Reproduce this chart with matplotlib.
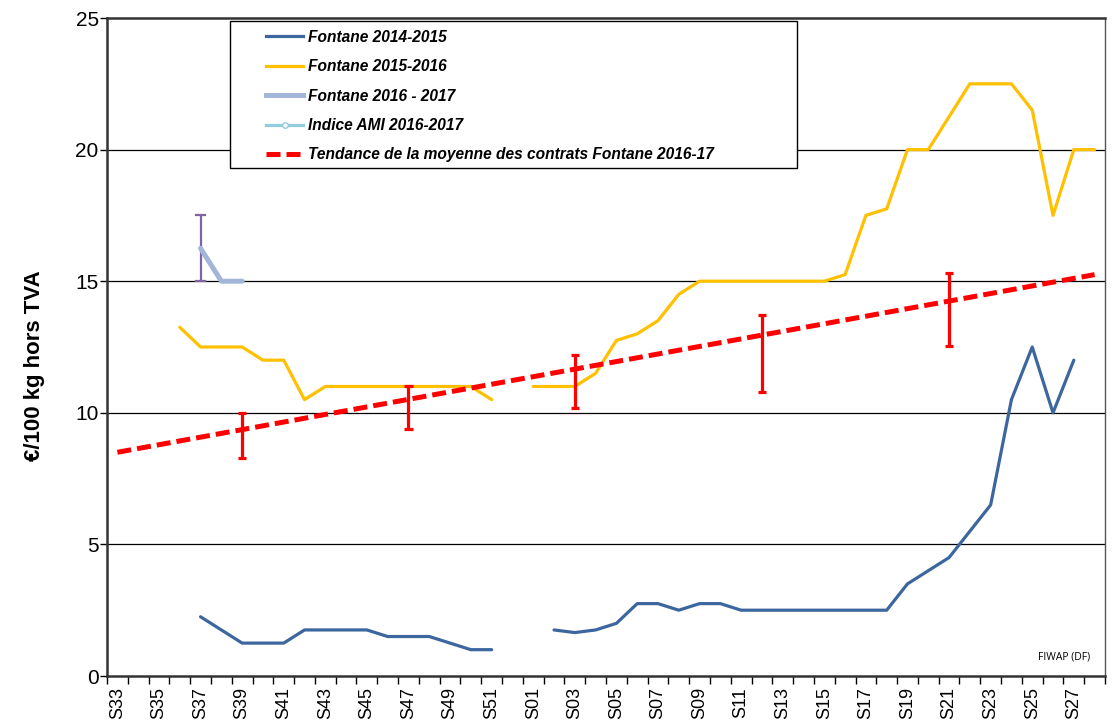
import numpy as np
import matplotlib
matplotlib.use("Agg")
import matplotlib.pyplot as plt
from matplotlib.lines import Line2D
from matplotlib.patches import Rectangle

plt.rcParams['font.family'] = ['Liberation Sans', 'DejaVu Sans']

nan = np.nan

weeks = ["S33", "S34", "S35", "S36", "S37", "S38", "S39", "S40", "S41", "S42",
         "S43", "S44", "S45", "S46", "S47", "S48", "S49", "S50", "S51", "S52",
         "S01", "S02", "S03", "S04", "S05", "S06", "S07", "S08", "S09", "S10",
         "S11", "S12", "S13", "S14", "S15", "S16", "S17", "S18", "S19", "S20",
         "S21", "S22", "S23", "S24", "S25", "S26", "S27", "S28"]

fontane_2014_2015 = [nan, nan, nan, nan, 2.25, 1.75, 1.25, 1.25, 1.25, 1.75,
                     1.75, 1.75, 1.75, 1.5, 1.5, 1.5, 1.25, 1.0, 1.0, nan,
                     nan, 1.75, 1.65, 1.75, 2.0, 2.75, 2.75, 2.5, 2.75, 2.75,
                     2.5, 2.5, 2.5, 2.5, 2.5, 2.5, 2.5, 2.5, 3.5, 4.0,
                     4.5, 5.5, 6.5, 10.5, 12.5, 10.0, 12.0, nan]

fontane_2015_2016 = [nan, nan, nan, 13.25, 12.5, 12.5, 12.5, 12.0, 12.0, 10.5,
                     11.0, 11.0, 11.0, 11.0, 11.0, 11.0, 11.0, 11.0, 10.5, nan,
                     11.0, 11.0, 11.0, 11.5, 12.75, 13.0, 13.5, 14.5, 15.0, 15.0,
                     15.0, 15.0, 15.0, 15.0, 15.0, 15.25, 17.5, 17.75, 20.0, 20.0,
                     21.25, 22.5, 22.5, 22.5, 21.5, 17.5, 20.0, 20.0]

fontane_2016_2017 = [nan, nan, nan, nan, 16.25, 15.0, 15.0] + [nan] * 41

indice_ami = [nan] * 48

# range bar on Fontane 2016-2017
range_week = ["S37"]
range_low = [15.0]
range_high = [17.5]

# contract ranges (red bars)
contract_weeks = ["S39", "S47", "S03", "S12", "S21"]
contract_low = [8.3, 9.4, 10.2, 10.8, 12.55]
contract_high = [10.0, 11.0, 12.2, 13.7, 15.3]

# trend line endpoints (first week, last week)
trend_values = [8.5, 15.25]

yticks = [0, 5, 10, 15, 20, 25]

BLUE = "#3C679E"
YELLOW = "#FFC000"
GREYBLUE = "#A3B5D9"
LIGHTBLUE = "#92CDDC"
RED = "#FF0000"
PURPLE = "#8064A2"

fig = plt.figure(figsize=(11.12, 7.2), dpi=100)
ax = fig.add_axes([107 / 1112, 44 / 720, (1105 - 107) / 1112, (676 - 18) / 720])

x = np.arange(len(weeks))

ax.set_ylim(0, 25)
ax.set_xlim(-0.5, len(weeks) - 0.5)

for v in [5, 10, 15, 20]:
    ax.axhline(v, color="black", lw=0.9, zorder=1)

ax.plot(x, fontane_2014_2015, color=BLUE, lw=2.3, zorder=3, solid_capstyle="round")
ax.plot(x, fontane_2015_2016, color=YELLOW, lw=2.3, zorder=3, solid_capstyle="round")
ax.plot(x, fontane_2016_2017, color=GREYBLUE, lw=3.6, zorder=3, solid_capstyle="round")
ax.plot(x, indice_ami, color=LIGHTBLUE, lw=2.3, marker="o", mfc="white", ms=4, zorder=3)

# purple range bar
rx = [weeks.index(w) for w in range_week]
ax.vlines(rx, range_low, range_high, color=PURPLE, lw=1.6, zorder=2)
for xx, lo, hi in zip(rx, range_low, range_high):
    ax.plot([xx - 0.2, xx + 0.2], [lo, lo], color=PURPLE, lw=1.6, zorder=2)
    ax.plot([xx - 0.2, xx + 0.2], [hi, hi], color=PURPLE, lw=1.6, zorder=2)

# trend line
ax.plot([0, len(weeks) - 1], trend_values, color=RED, lw=3.6,
        dashes=(2.8, 1.2), zorder=4)

# red contract bars
cx = [weeks.index(w) for w in contract_weeks]
ax.vlines(cx, contract_low, contract_high, color=RED, lw=2.3, zorder=4)
for xx, lo, hi in zip(cx, contract_low, contract_high):
    ax.plot([xx - 0.2, xx + 0.2], [lo, lo], color=RED, lw=2.3, zorder=4, solid_capstyle="butt")
    ax.plot([xx - 0.2, xx + 0.2], [hi, hi], color=RED, lw=2.3, zorder=4, solid_capstyle="butt")

# axes styling
ax.set_yticks(yticks)
ax.set_yticklabels([str(v) for v in yticks], fontsize=15)
ax.tick_params(axis="y", direction="out", length=5, width=1, pad=1)

ax.set_xticks(np.arange(-0.5, len(weeks), 1.0))
ax.set_xticklabels([])
ax.tick_params(axis="x", which="major", direction="out", length=6, width=1)
ax.set_xticks(x, minor=True)
ax.set_xticklabels([w if i % 2 == 0 else "" for i, w in enumerate(weeks)],
                   minor=True, rotation=90, fontsize=13)
ax.tick_params(axis="x", which="minor", length=0, pad=8)

for s in ["left", "bottom"]:
    ax.spines[s].set_linewidth(1.8)
    ax.spines[s].set_color("#333333")
ax.spines["top"].set_linewidth(1.8)
ax.spines["top"].set_color("#333333")
ax.spines["right"].set_linewidth(1.0)
ax.spines["right"].set_color("#555555")

ax.set_ylabel("€/100 kg hors TVA", fontsize=16, fontweight="bold")
ax.yaxis.set_label_coords((45 - 107) / 998, (676 - 366) / 658)

# legend frame
rect = Rectangle((230 / 1112, 1 - 168 / 720), (797 - 230) / 1112, (168 - 21) / 720,
                 transform=fig.transFigure, facecolor="white", edgecolor="black",
                 lw=1.0, zorder=5, clip_on=False)
ax.add_patch(rect)

handles = [
    Line2D([], [], color=BLUE, lw=2.3),
    Line2D([], [], color=YELLOW, lw=2.3),
    Line2D([], [], color=GREYBLUE, lw=3.6),
    Line2D([], [], color=LIGHTBLUE, lw=2.3, marker="o", mfc="white", ms=4),
    Line2D([], [], color=RED, lw=3.6, dashes=(2.8, 1.2)),
]
labels = ["Fontane 2014-2015", "Fontane 2015-2016", "Fontane 2016 - 2017",
          "Indice AMI 2016-2017", "Tendance de la moyenne des contrats Fontane 2016-17"]
leg = ax.legend(handles, labels, loc="upper left",
                bbox_to_anchor=(263 / 1112, 1 - 26.7 / 720), bbox_transform=fig.transFigure,
                frameon=False, prop={"size": 11.2, "weight": "bold", "style": "italic"},
                handlelength=2.38, handletextpad=0.32, labelspacing=0.925, borderaxespad=0,
                borderpad=0.2)
leg.set_zorder(6)

fig.text(1090 / 1112, 1 - 657 / 720, "FIWAP (DF)", fontsize=7.5, ha="right", va="center",
         family=["Open Sans", "DejaVu Sans"])

fig.savefig("out.png", dpi=100)
